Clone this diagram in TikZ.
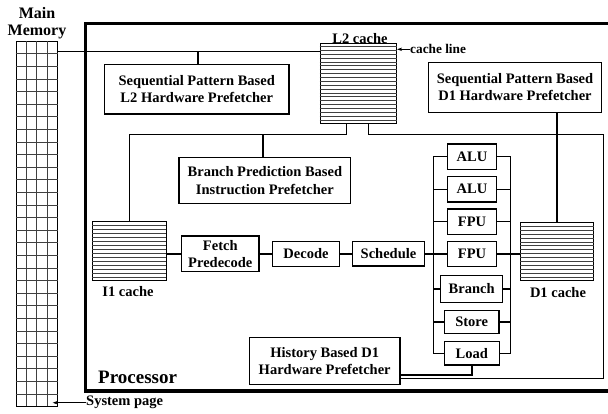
\documentclass[tikz,border=0pt]{standalone}
\usepackage{fontspec}
\setmainfont{Liberation Serif}
\usetikzlibrary{arrows.meta,calc}
\begin{document}
\begin{tikzpicture}[x=1pt,y=-1pt,
  box/.style={draw, line width=1.4pt, inner sep=0pt, align=center, font=\bfseries\fontsize{14.5}{17.4}\selectfont},
  lbl/.style={inner sep=0pt, font=\bfseries\fontsize{14.5}{17.4}\selectfont},
  wire/.style={line width=1.4pt},
  fine/.style={line width=0.7pt, black!75},
  cachebox/.style={draw, line width=0.9pt, inner sep=0pt},
  pointer/.style={line width=0.7pt, -{Stealth[length=5pt,width=3.5pt]}}
]
\useasboundingbox (0,0) rectangle (608,413);

% processor frame
\coordinate (pTR) at (608,23.3);
\coordinate (pBR) at (608,391);
\draw[line width=3.5pt] (pTR) -| (85.5,391) -- (pBR);
\node[anchor=west, inner sep=0pt, font=\bfseries\fontsize{19}{22}\selectfont] (proc) at (98,377) {Processor};

% main memory
\node[align=center, inner sep=0pt, font=\bfseries\fontsize{16}{17}\selectfont] (mmlabel) at (37,23.5) {Main\\Memory};
\node[cachebox, minimum width=41.3pt, minimum height=364.3pt] (mem) at (36.65,223.85) {};
\foreach \i in {1,...,28}
  \draw[fine] ($(mem.north west)!\i/29!(mem.south west)$) -- ($(mem.north east)!\i/29!(mem.south east)$);
\foreach \j in {1,2,3}
  \draw[fine] ($(mem.north west)!\j/4!(mem.north east)$) -- ($(mem.south west)!\j/4!(mem.south east)$);

% caches
\node[cachebox, minimum width=76.7pt, minimum height=80.5pt] (l2) at (358.35,83.25) {};
\foreach \i in {1,...,20}
  \draw[fine] ($(l2.north west)!\i/21!(l2.south west)$) -- ($(l2.north east)!\i/21!(l2.south east)$);
\node[lbl, anchor=south] (l2lbl) at (360,44) {L2 cache};

\node[cachebox, minimum width=73.3pt, minimum height=59pt] (i1) at (129.35,251.2) {};
\foreach \i in {1,...,14}
  \draw[fine] ($(i1.north west)!\i/15!(i1.south west)$) -- ($(i1.north east)!\i/15!(i1.south east)$);
\node[lbl] (i1lbl) at (128,292) {I1 cache};

\node[cachebox, minimum width=72.6pt, minimum height=58pt] (d1) at (557,251.7) {};
\foreach \i in {1,...,14}
  \draw[fine] ($(d1.north west)!\i/15!(d1.south west)$) -- ($(d1.north east)!\i/15!(d1.south east)$);
\node[lbl] (d1lbl) at (558,293) {D1 cache};

% boxes
\node[box, minimum width=184.7pt, minimum height=49.7pt] (seql2) at (196.7,89.2) {Sequential Pattern Based\\L2 Hardware Prefetcher};
\node[box, minimum width=173.4pt, minimum height=50pt] (seqd1) at (515,87.3) {Sequential Pattern Based\\D1 Hardware Prefetcher};
\node[box, minimum width=171.7pt, minimum height=45.6pt] (bp) at (264.9,180.5) {Branch Prediction Based\\Instruction Prefetcher};
\node[box, minimum width=77.3pt, minimum height=35.7pt] (fetch) at (220.3,253.8) {Fetch\\Predecode};
\node[box, minimum width=66.6pt, minimum height=25pt] (decode) at (306,253.8) {Decode};
\node[box, minimum width=71.6pt, minimum height=24.3pt] (sched) at (388.5,253.8) {Schedule};
\node[box, minimum width=49.4pt, minimum height=25.3pt] (alu1) at (472,156.7) {ALU};
\node[box, minimum width=49.4pt, minimum height=25.3pt] (alu2) at (472,189.2) {ALU};
\node[box, minimum width=49.4pt, minimum height=25.3pt] (fpu1) at (472,221.7) {FPU};
\node[box, minimum width=49.4pt, minimum height=25.3pt] (fpu2) at (472,254) {FPU};
\node[box, minimum width=62pt, minimum height=26.6pt] (br) at (471.7,289) {Branch};
\node[box, minimum width=54.7pt, minimum height=22.6pt] (store) at (471.7,322) {Store};
\node[box, minimum width=55pt, minimum height=23.3pt] (load) at (471.8,353.3) {Load};
\node[box, minimum width=150.7pt, minimum height=46.6pt] (hist) at (324.7,361) {History Based D1\\Hardware Prefetcher};

% connectors
\coordinate (top) at (0,134.5);
\coordinate (loopc) at (603.3,378.3);
\coordinate (busL) at (433.3,0);
\coordinate (busR) at (510.7,0);

\draw[wire] (l2.north west) ++(0,8.7) coordinate (l2in) -- (l2in -| mem.east);
\draw[wire] (seql2.north -| 198,0) -- (l2in -| 198,0);
\draw[wire] (l2.south) ++(-11.6,0) coordinate (l2a) -- (l2a |- top) -| (i1.north);
\draw[wire] (bp.north -| 263,0) -- (top -| 263,0);
\draw[wire] (l2.south) ++(10,0) coordinate (l2b) -- (l2b |- top) -| (loopc) -- (loopc -| hist.east);
\draw[wire] (load.south) |- ($(hist.east)+(0,14)$);
\draw[wire] (seqd1.south -| d1.north) -- (d1.north);

\draw[wire] (i1.east |- fetch.west) -- (fetch.west);
\draw[wire] (fetch.east |- decode.west) -- (decode.west);
\draw[wire] (decode.east) -- (sched.west);
\draw[wire] (sched.east) -- (sched.east -| busL);
\draw[wire] (alu1.west -| busL) -- (load.west -| busL);
\draw[wire] (alu1.east -| busR) -- (load.east -| busR);
\foreach \n in {alu1,alu2,fpu1,fpu2,br,store,load} {
  \draw[wire] (\n.west) -- (\n.west -| busL);
  \draw[wire] (\n.east) -- (\n.east -| busR);
}
\draw[wire] (fpu2.east) -- (fpu2.east -| d1.west);

% annotations
\node[anchor=west, inner sep=0pt, font=\bfseries\fontsize{13.3}{15}\selectfont] (cl) at (410,49.3) {cache line};
\draw[pointer] (cl.west) -- (cl.west -| l2.east);
\node[lbl, anchor=west] (sp) at (86,402.7) {System page};
\coordinate (sysp) at (52.7,402.7);
\draw[pointer] (sp.west) -- (sysp);
\end{tikzpicture}
\end{document}
